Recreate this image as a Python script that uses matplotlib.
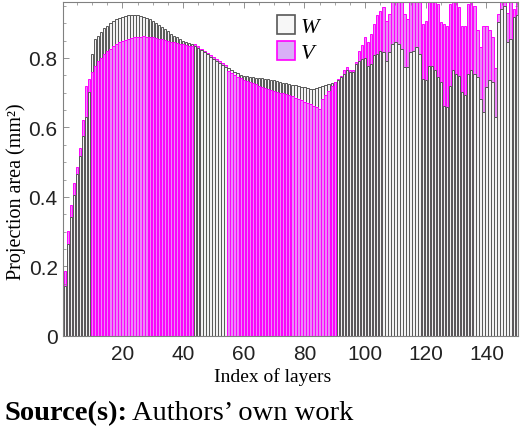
import numpy as np
import matplotlib
matplotlib.use("Agg")
import matplotlib.pyplot as plt
from matplotlib.patches import Patch
from matplotlib.ticker import MultipleLocator

layers = np.arange(1, 151)

W = [0.145, 0.265, 0.342, 0.406, 0.466, 0.519, 0.576, 0.630, 0.702, 0.811,
     0.853, 0.864, 0.874, 0.885, 0.893, 0.900, 0.906, 0.911, 0.915, 0.918,
     0.921, 0.923, 0.924, 0.924, 0.923, 0.921, 0.918, 0.915, 0.911, 0.906,
     0.900, 0.894, 0.888, 0.882, 0.876, 0.870, 0.864, 0.859, 0.854, 0.850,
     0.846, 0.843, 0.840, 0.834, 0.828, 0.822, 0.816, 0.810, 0.804, 0.798,
     0.792, 0.786, 0.780, 0.775, 0.770, 0.765, 0.760, 0.756, 0.752, 0.749,
     0.747, 0.745, 0.744, 0.743, 0.742, 0.741, 0.740, 0.739, 0.737, 0.735,
     0.733, 0.731, 0.729, 0.727, 0.725, 0.723, 0.721, 0.719, 0.717, 0.715,
     0.713, 0.711, 0.711, 0.713, 0.716, 0.718, 0.722, 0.725, 0.727, 0.730,
     0.735, 0.744, 0.754, 0.764, 0.759, 0.759, 0.783, 0.792, 0.797, 0.799,
     0.778, 0.783, 0.807, 0.812, 0.821, 0.816, 0.792, 0.816, 0.840, 0.845,
     0.840, 0.826, 0.773, 0.773, 0.816, 0.821, 0.831, 0.812, 0.740, 0.735,
     0.778, 0.778, 0.764, 0.745, 0.730, 0.663, 0.658, 0.720, 0.764, 0.754,
     0.749, 0.701, 0.692, 0.754, 0.764, 0.754, 0.745, 0.682, 0.644, 0.716,
     0.735, 0.730, 0.630, 0.903, 0.941, 0.950, 0.845, 0.855, 0.917, 0.922]

V = [0.188, 0.303, 0.377, 0.440, 0.487, 0.541, 0.620, 0.720, 0.740, 0.759,
     0.778, 0.790, 0.800, 0.810, 0.819, 0.827, 0.834, 0.840, 0.845, 0.849,
     0.852, 0.855, 0.857, 0.859, 0.860, 0.861, 0.862, 0.861, 0.860, 0.859,
     0.857, 0.855, 0.853, 0.851, 0.849, 0.847, 0.845, 0.843, 0.841, 0.839,
     0.837, 0.835, 0.833, 0.839, 0.833, 0.827, 0.821, 0.815, 0.809, 0.803,
     0.797, 0.791, 0.785, 0.780, 0.762, 0.756, 0.751, 0.746, 0.741, 0.737,
     0.733, 0.730, 0.727, 0.724, 0.720, 0.717, 0.714, 0.711, 0.708, 0.705,
     0.703, 0.700, 0.698, 0.695, 0.692, 0.689, 0.686, 0.682, 0.678, 0.674,
     0.670, 0.666, 0.662, 0.658, 0.653, 0.682, 0.692, 0.706, 0.718, 0.730,
     0.740, 0.749, 0.764, 0.773, 0.764, 0.764, 0.788, 0.821, 0.836, 0.860,
     0.845, 0.869, 0.898, 0.922, 0.936, 0.946, 0.907, 0.927, 0.990, 0.990,
     0.990, 0.990, 0.927, 0.912, 0.960, 0.990, 0.960, 0.960, 0.898, 0.907,
     0.990, 0.990, 0.990, 0.955, 0.903, 0.898, 0.893, 0.955, 0.990, 0.990,
     0.946, 0.893, 0.893, 0.955, 0.990, 0.950, 0.879, 0.831, 0.893, 0.893,
     0.879, 0.859, 0.771, 0.926, 0.990, 0.990, 0.930, 0.990, 0.940, 0.990]

x_ticks = [20, 40, 60, 80, 100, 120, 140]
y_ticks = [0, 0.2, 0.4, 0.6, 0.8]
y_tick_labels = ["0", "0.2", "0.4", "0.6", "0.8"]

W = np.array(W)
V = np.array(V)

w_face, w_edge = '#f2f2f2', '#575757'
v_face, v_edge = '#eb88f7', '#ff00ff'

fig = plt.figure(figsize=(5.2, 4.27), dpi=100)
ax = fig.add_axes([0.1217, 0.2108, 0.875, 0.7815])

bw = 0.8
lw = 0.7
w_back = W >= V
v_back = ~w_back
# the larger one of each pair sits behind, the smaller one in front
ax.bar(layers[w_back], W[w_back], width=bw, color=w_face, edgecolor=w_edge, linewidth=lw, zorder=1)
ax.bar(layers[v_back], V[v_back], width=bw, color=v_face, edgecolor=v_edge, linewidth=lw, zorder=1)
ax.bar(layers[v_back], W[v_back], width=bw, color=w_face, edgecolor=w_edge, linewidth=lw, zorder=2)
ax.bar(layers[w_back], V[w_back], width=bw, color=v_face, edgecolor=v_edge, linewidth=lw, zorder=2)

ax.set_xlim(0.5, 150.5)
ax.set_ylim(0, 0.96)
ax.set_xticks(x_ticks)
ax.set_yticks(y_ticks)
ax.set_yticklabels(y_tick_labels)
ax.xaxis.set_minor_locator(MultipleLocator(5))
ax.yaxis.set_minor_locator(MultipleLocator(0.05))
ax.tick_params(which='both', direction='in', top=True, right=True, color='#808080')
ax.tick_params(which='major', length=4, width=0.6)
ax.tick_params(which='minor', length=2.5, width=0.5)
ax.tick_params(axis='x', which='major', pad=6)
ax.tick_params(axis='y', which='major', pad=4)
for lab in ax.get_xticklabels() + ax.get_yticklabels():
    lab.set_fontfamily('Liberation Sans')
    lab.set_fontsize(15)
    lab.set_color('#222222')
for s in ax.spines.values():
    s.set_color('#808080')
    s.set_linewidth(0.8)
    s.set_zorder(5)

ax.set_xlabel('Index of layers', family='Liberation Serif', fontsize=14)
ax.xaxis.set_label_coords(0.459, -0.093)
ax.set_ylabel('Projection area (mm\u00b2)', family='Liberation Serif', fontsize=14.5)
ax.yaxis.set_label_coords(-0.082, 0.435)

handles = [Patch(facecolor='#f7f7f7', edgecolor=w_edge, linewidth=1.2, label='W'),
           Patch(facecolor='#d9b0f7', edgecolor=v_edge, linewidth=1.2, label='V')]
leg = ax.legend(handles=handles, loc='upper left', bbox_to_anchor=(0.446, 0.995),
                frameon=False, borderpad=0, handlelength=0.8, handleheight=0.9,
                handletextpad=0.25, labelspacing=0.2,
                prop={'family': 'Liberation Serif', 'style': 'italic', 'size': 16})
leg.set_zorder(10)

t1 = fig.text(0.008, 0.0164, 'Source(s):', family='Liberation Serif', weight='bold', fontsize=20.5)
fig.canvas.draw()
bb = t1.get_window_extent()
fig.text(bb.x1 / fig.bbox.width + 0.01, 0.0164, 'Authors\u2019 own work',
         family='Liberation Serif', fontsize=20.5)

fig.savefig('out.png', dpi=100)
